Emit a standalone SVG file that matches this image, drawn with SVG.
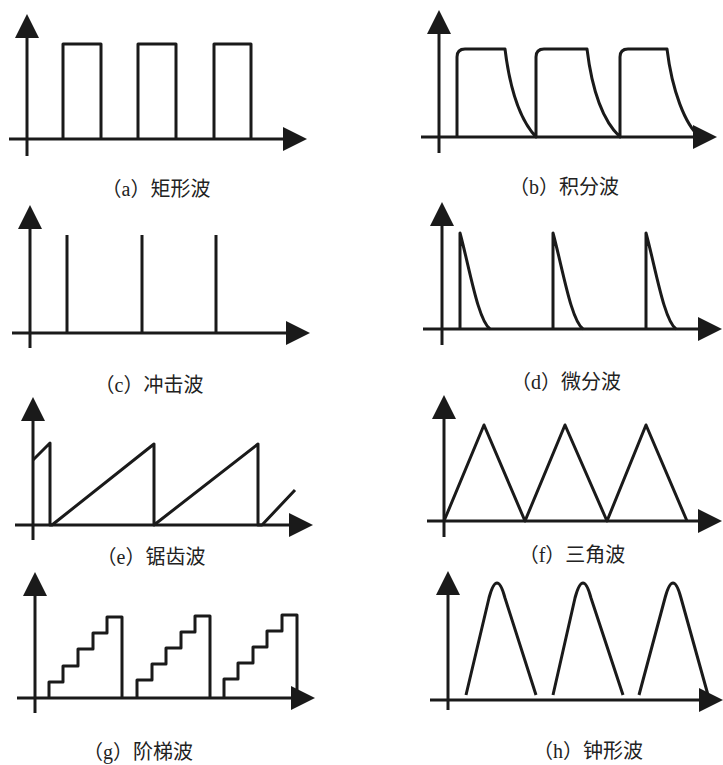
<svg xmlns="http://www.w3.org/2000/svg" width="723" height="765" viewBox="0 0 723 765">
<style>
.ax{stroke:#1a1a1a;stroke-width:3;fill:none;marker-end:url(#ah)}
.w{stroke:#1a1a1a;stroke-width:3;fill:none;stroke-linejoin:round}
.lb{font-family:"Liberation Serif","Noto Sans CJK SC",serif;font-size:20px;fill:#222;text-anchor:middle}
</style>
<defs>
<marker id="ah" markerUnits="userSpaceOnUse" viewBox="0 0 24 24" markerWidth="24" markerHeight="24" refX="20" refY="12" orient="auto">
<path d="M0,0 L24,12 L0,24 z" fill="#1a1a1a"/>
</marker>
</defs>
<rect width="723" height="765" fill="#fff"/>
<g id="panel-a">
<line class="ax" x1="27" y1="156" x2="27" y2="18"/>
<line class="ax" x1="9" y1="139" x2="303" y2="139"/>
<path class="w" d="M63,139 V44 H101 V139 M138,139 V44 H176 V139 M214,139 V44 H251 V139"/>
<text class="lb" x="156" y="196">（a）矩形波</text>
</g>
<g id="panel-b">
<line class="ax" x1="439" y1="153" x2="439" y2="14"/>
<line class="ax" x1="421" y1="137" x2="713" y2="137"/>
<path class="w" d="M457,137 V57 Q457,49 465,49 H505 C510,90 520,120 536,137 V57 Q536,49 544,49 H587 C592,90 602,120 620,137 V57 Q620,49 628,49 H667 C672,90 685,125 700,137"/>
<text class="lb" x="564" y="194">（b）积分波</text>
</g>
<g id="panel-c">
<line class="ax" x1="30" y1="348" x2="30" y2="209"/>
<line class="ax" x1="12" y1="333" x2="306" y2="333"/>
<path class="w" d="M67,333 V235 M142,333 V235 M216,333 V235"/>
<text class="lb" x="149" y="392">（c）冲击波</text>
</g>
<g id="panel-d">
<line class="ax" x1="442" y1="345" x2="442" y2="206"/>
<line class="ax" x1="423" y1="329" x2="718" y2="329"/>
<path class="w" d="M460,329 V233 C470,270 478,320 490,329 M553,329 V233 C563,270 571,320 583,329 M646,329 V233 C656,270 664,320 676,329"/>
<text class="lb" x="566" y="389">（d）微分波</text>
</g>
<g id="panel-e">
<line class="ax" x1="33" y1="540" x2="33" y2="401"/>
<line class="ax" x1="15" y1="525" x2="309" y2="525"/>
<path class="w" d="M33,460 L50,443 V525 H52 L154,444 V525 L258,444 V525 H262 L295,490"/>
<text class="lb" x="151" y="564">（e）锯齿波</text>
</g>
<g id="panel-f">
<line class="ax" x1="444" y1="537" x2="444" y2="399"/>
<line class="ax" x1="427" y1="521" x2="718" y2="521"/>
<path class="w" d="M444,521 L484,425 L525,521 L565,425 L607,521 L646,425 L687,521"/>
<text class="lb" x="572" y="562">（f）三角波</text>
</g>
<g id="panel-g">
<line class="ax" x1="35" y1="713" x2="35" y2="576"/>
<line class="ax" x1="17" y1="698" x2="311" y2="698"/>
<path class="w" d="M49,698 V682 H63 V666 H78 V649 H93 V633 H107 V617 H122 V698 M137,698 V680 H152 V664 H166 V648 H181 V632 H195 V616 H210 V698 M224,698 V679 H238 V663 H253 V647 H267 V631 H282 V615 H297 V698"/>
<text class="lb" x="138" y="759">（g）阶梯波</text>
</g>
<g id="panel-h">
<line class="ax" x1="448" y1="710" x2="448" y2="575"/>
<line class="ax" x1="430" y1="700" x2="719" y2="700"/>
<path class="w" d="M466,695 L489,598 Q497,568 505,598 L536,695 M553,695 L575,598 Q583,568 591,598 L623,695 M639,695 L665,598 Q673,568 681,598 L708,695"/>
<text class="lb" x="588" y="758">（h）钟形波</text>
</g>
<g id="connectors"></g>
</svg>
